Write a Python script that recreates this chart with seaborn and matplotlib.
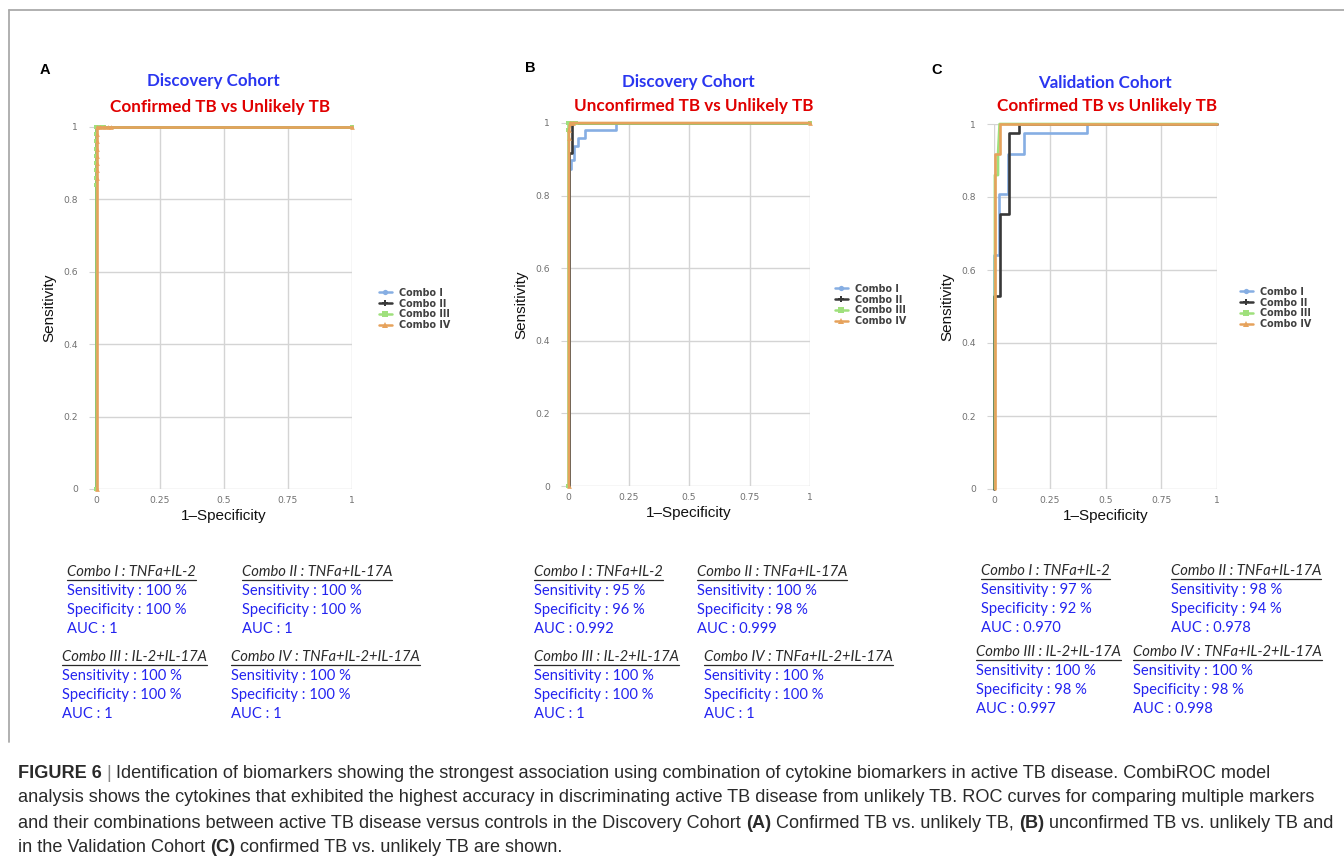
import numpy as np
import pandas as pd
import matplotlib
matplotlib.use("Agg")
import matplotlib.pyplot as plt
from matplotlib.lines import Line2D
from matplotlib import font_manager
import seaborn as sns

W, H = 1344, 860

# ---------------- data ----------------
COMBOS = ["Combo I", "Combo II", "Combo III", "Combo IV"]

# panel A : discovery, confirmed vs unlikely
A_FPR = {
    "Combo I":   [0, 0, 0.004, 1],
    "Combo II":  [0, 0, 0.004, 1],
    "Combo III": [0, 0, 0, 0, 0, 0, 0, 0, 0, 0, 0.01, 0.02, 0.03, 1],
    "Combo IV":  [0.004, 0.004, 0.004, 0.004, 0.004, 0.004, 0.004, 0.004, 0.004, 0.015, 0.03, 0.045, 0.06, 1],
}
A_TPR = {
    "Combo I":   [0, 1, 1, 1],
    "Combo II":  [0, 1, 1, 1],
    "Combo III": [0, 0.84, 0.86, 0.88, 0.90, 0.92, 0.94, 0.96, 0.98, 1, 1, 1, 1, 1],
    "Combo IV":  [0, 0.86, 0.88, 0.90, 0.92, 0.94, 0.96, 0.98, 1, 1, 1, 1, 1, 1],
}

# panel B : discovery, unconfirmed vs unlikely
B_FPR = {
    "Combo I":   [0.004, 0.004, 0.012, 0.012, 0.025, 0.025, 0.041, 0.041, 0.069, 0.069, 0.2, 0.2, 1],
    "Combo II":  [0.004, 0.004, 0.015, 0.015, 1],
    "Combo III": [0, 0, 0, 0.01, 0.02, 0.035, 1],
    "Combo IV":  [0.004, 0.004, 0.004, 0.01, 0.02, 1],
}
B_TPR = {
    "Combo I":   [0, 0.874, 0.874, 0.899, 0.899, 0.937, 0.937, 0.96, 0.96, 0.982, 0.982, 1, 1],
    "Combo II":  [0, 0.917, 0.917, 1, 1],
    "Combo III": [0, 0.98, 1, 1, 1, 1, 1],
    "Combo IV":  [0, 0.96, 0.98, 1, 1, 1],
}

# panel C : validation, confirmed vs unlikely
C_FPR = {
    "Combo I":   [0, 0, 0.022, 0.022, 0.064, 0.064, 0.135, 0.135, 0.416, 0.416, 1],
    "Combo II":  [0, 0, 0.025, 0.025, 0.067, 0.067, 0.112, 0.112, 1],
    "Combo III": [0.004, 0.004, 0.018, 0.018, 0.025, 1],
    "Combo IV":  [0.004, 0.004, 0.025, 0.025, 1],
}
C_TPR = {
    "Combo I":   [0, 0.64, 0.64, 0.807, 0.807, 0.917, 0.917, 0.974, 0.974, 1, 1],
    "Combo II":  [0, 0.53, 0.53, 0.753, 0.753, 0.974, 0.974, 1, 1],
    "Combo III": [0, 0.86, 0.86, 0.917, 1, 1],
    "Combo IV":  [0, 0.917, 0.917, 1, 1],
}

PANEL_LETTERS = ["A", "B", "C"]
COHORTS = ["Discovery Cohort", "Discovery Cohort", "Validation Cohort"]
COMPARISONS = ["Confirmed TB vs Unlikely TB", "Unconfirmed TB vs Unlikely TB",
               "Confirmed TB vs Unlikely TB"]
COMBO_MARKERS = ["TNFa+IL-2", "TNFa+IL-17A", "IL-2+IL-17A", "TNFa+IL-2+IL-17A"]
SENS = [["100", "100", "100", "100"], ["95", "100", "100", "100"], ["97", "98", "100", "100"]]
SPEC = [["100", "100", "100", "100"], ["96", "98", "100", "100"], ["92", "94", "98", "98"]]
AUC = [["1", "1", "1", "1"], ["0.992", "0.999", "1", "1"], ["0.970", "0.978", "0.997", "0.998"]]

X_TICKS = [0, 0.25, 0.5, 0.75, 1]
X_TICKLABELS = ["0", "0.25", "0.5", "0.75", "1"]
Y_TICKS = [0, 0.2, 0.4, 0.6, 0.8, 1]
Y_TICKLABELS = ["0", "0.2", "0.4", "0.6", "0.8", "1"]

CAPTION = [
    [("FIGURE 6", "bold"), (" | ", "light"),
     ("Identification of biomarkers showing the strongest association using combination of cytokine "
      "biomarkers in active TB disease. CombiROC model", "normal")],
    [("analysis shows the cytokines that exhibited the highest accuracy in discriminating active TB disease "
      "from unlikely TB. ROC curves for comparing multiple markers", "normal")],
    [("and their combinations between active TB disease versus controls in the Discovery Cohort ", "normal"),
     ("(A)", "bold"), (" Confirmed TB vs. unlikely TB, ", "normal"), ("(B)", "bold"),
     (" unconfirmed TB vs. unlikely TB and", "normal")],
    [("in the Validation Cohort ", "normal"), ("(C)", "bold"),
     (" confirmed TB vs. unlikely TB are shown.", "normal")],
]

# ---------------- style ----------------
COLORS = {"Combo I": "#86aee3", "Combo II": "#383838", "Combo III": "#9fe07c", "Combo IV": "#e6a25c"}
MARKERS = {"Combo I": "o", "Combo II": "P", "Combo III": "s", "Combo IV": "^"}
# markers only show on the green / orange curves in panels A and B
MARKER_SIZE = {"Combo I": 0, "Combo II": 0, "Combo III": 3.4, "Combo IV": 3.4}

sns.set_theme(style="whitegrid")


def has_font(name):
    try:
        font_manager.findfont(name, fallback_to_default=False)
        return True
    except Exception:
        return False


TEXT_FONT = "Lato" if has_font("Lato") else "DejaVu Sans"
CAP_FONT = "Liberation Sans Narrow" if has_font("Liberation Sans Narrow") else "Liberation Sans"
plt.rcParams["font.family"] = ["Liberation Sans", "DejaVu Sans"]

fig = plt.figure(figsize=(W / 100, H / 100), dpi=100)
fig.patch.set_facecolor("white")
renderer = fig.canvas.get_renderer()


def fx(x):
    return x / W


def fy(y):
    return 1 - y / H


# axes rectangles in pixels: left, top(y=1), right(x=1), bottom(y=0)
AX_PX = [(96, 127, 352, 489), (568, 123, 810, 486), (994, 124, 1217, 489)]
TITLE_PX = [((213, 81), (220, 107)), ((688, 82), (694, 106)), ((1105, 83), (1107, 106))]
LETTER_PX = [(45, 70), (530, 68), (937, 70)]
LEGEND_PX = [(370, 309), (826, 305), (1231, 308)]
BLOCK_PX = [
    [(67, 572), (242, 572), (62, 657), (231, 657)],
    [(534, 572), (697, 572), (534, 657), (704, 657)],
    [(981, 571), (1171, 571), (976, 652), (1133, 652)],
]
ROW_OFF = [19, 38, 57]
TXT_SIZE = 10.6

panel_data = [(A_FPR, A_TPR), (B_FPR, B_TPR), (C_FPR, C_TPR)]

for i, (fpr, tpr) in enumerate(panel_data):
    l, t, r, b = AX_PX[i]
    ax = fig.add_axes([fx(l), fy(b), (r - l) / W, (b - t) / H])
    ax.set_facecolor("white")
    for c in COMBOS:
        d = pd.DataFrame({"fpr": fpr[c], "tpr": tpr[c]})
        ms = MARKER_SIZE[c] if i < 2 else 0
        sns.lineplot(data=d, x="fpr", y="tpr", ax=ax, estimator=None, sort=False,
                     color=COLORS[c], lw=1.9, marker=MARKERS[c], markersize=ms,
                     markeredgewidth=0, clip_on=False, zorder=3, legend=False)
    ax.set_xlim(0, 1)
    ax.set_ylim(0, 1)
    ax.set_xticks(X_TICKS)
    ax.set_xticklabels(X_TICKLABELS)
    ax.set_yticks(Y_TICKS)
    ax.set_yticklabels(Y_TICKLABELS)
    ax.grid(True, color="#d4d4d4", lw=1.0)
    for s in ax.spines.values():
        s.set_visible(False)
    ax.tick_params(axis="x", length=0, pad=5, labelsize=6.6, labelcolor="#707070")
    ax.tick_params(axis="y", length=5, width=0.8, color="#d4d4d4", pad=8,
                   labelsize=6.6, labelcolor="#707070", left=True)
    for lab in ax.get_xticklabels() + ax.get_yticklabels():
        lab.set_family("DejaVu Sans")
    ax.set_xlabel("1\u2013Specificity", fontsize=11, color="#111111", labelpad=3)
    ax.set_ylabel("Sensitivity", fontsize=11, color="#111111", labelpad=5)

    handles = [Line2D([0], [0], color=COLORS[c], lw=1.8, marker=MARKERS[c], markersize=3.8,
                      markeredgewidth=0) for c in COMBOS]
    lx, ly = LEGEND_PX[i]
    leg = fig.legend(handles, COMBOS, loc="center left", bbox_to_anchor=(fx(lx), fy(ly)),
                     frameon=False, prop={"size": 6.9, "weight": "bold", "family": "DejaVu Sans"},
                     labelspacing=0.08, handlelength=1.4, handletextpad=0.7)
    for txt in leg.get_texts():
        txt.set_color("#404040")

    (bx, by), (rx, ry) = TITLE_PX[i]
    fig.text(fx(bx), fy(by), COHORTS[i], ha="center", va="center", fontsize=12.2,
             fontweight="bold", color="#2a36f0", family=TEXT_FONT)
    fig.text(fx(rx), fy(ry), COMPARISONS[i], ha="center", va="center", fontsize=12.3,
             fontweight="bold", color="#e00000", family=TEXT_FONT)
    px_, py_ = LETTER_PX[i]
    fig.text(fx(px_), fy(py_), PANEL_LETTERS[i], ha="center", va="center", fontsize=10.5,
             fontweight="bold", color="black")

    # stats blocks
    for k, c in enumerate(COMBOS):
        x0, y0 = BLOCK_PX[i][k]
        head = fig.text(fx(x0), fy(y0), f"{c} : {COMBO_MARKERS[k]}", ha="left", va="center",
                        fontsize=TXT_SIZE, fontstyle="italic", color="#2a2a2a", family=TEXT_FONT)
        bb = head.get_window_extent(renderer)
        fig.add_artist(Line2D([fx(bb.x0), fx(bb.x1)], [fy(y0 + 8)] * 2, color="#2a2a2a", lw=0.9))
        rows = [f"Sensitivity : {SENS[i][k]} %", f"Specificity : {SPEC[i][k]} %", f"AUC : {AUC[i][k]}"]
        for off, s in zip(ROW_OFF, rows):
            fig.text(fx(x0), fy(y0 + off), s, ha="left", va="center", fontsize=TXT_SIZE,
                     color="#2323f0", family=TEXT_FONT)

# outer frame lines
fig.add_artist(Line2D([fx(9), 1], [fy(10)] * 2, color="#aaaaaa", lw=1.3))
fig.add_artist(Line2D([fx(9)] * 2, [fy(10), fy(742)], color="#aaaaaa", lw=1.3))


# caption with mixed weights
def run_width(s, **kw):
    a = fig.text(0, 0, "|" + s + "|", **kw)
    b = fig.text(0, 0, "||", **kw)
    w = a.get_window_extent(renderer).width - b.get_window_extent(renderer).width
    a.remove()
    b.remove()
    return w


def cap_kw(kind, size):
    return dict(fontsize=size, family=CAP_FONT, va="center", ha="left",
                color="#2a2a2a" if kind != "light" else "#888888",
                fontweight="bold" if kind == "bold" else "normal")


# pick the caption size so that the first line spans the same width as in the figure
base = 10.0
w1 = sum(run_width(s, **cap_kw(k, base)) for s, k in CAPTION[0])
CAP_SIZE = base * (1277 - 18) / w1

CAP_Y = [773, 798, 823, 848]
for yy, line in zip(CAP_Y, CAPTION):
    x = 18
    for s, kind in line:
        kw = cap_kw(kind, CAP_SIZE)
        fig.text(fx(x), fy(yy), s, **kw)
        x += run_width(s, **kw)

fig.savefig("out.png", dpi=100, facecolor="white")
